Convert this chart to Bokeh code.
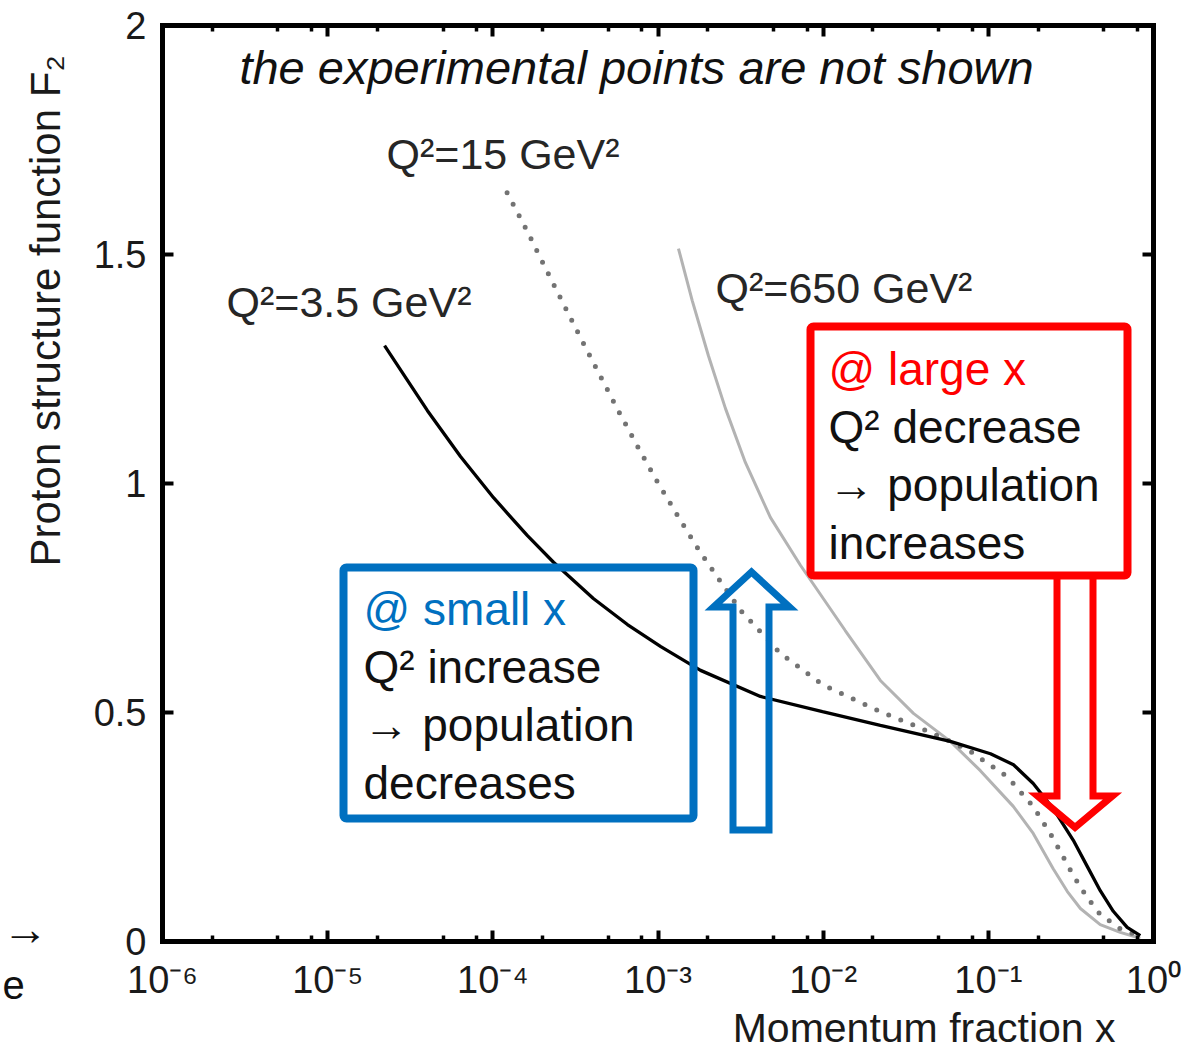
import math
from bokeh.plotting import figure
from bokeh.models import (Range1d, FixedTicker, LogAxis, LinearAxis, CustomJSTickFormatter,
                          CustomLabelingPolicy, Label, BoxAnnotation, PolyAnnotation)
from bokeh.embed import file_html
from bokeh.resources import INLINE

# ---------------- data ----------------
x_q35 = [2.21e-5, 4.02e-5, 6.37e-5, 1.01e-4, 1.62e-4, 2.33e-4, 4.06e-4, 6.53e-4, 1.04e-3,
         1.81e-3, 4.17e-3, 9.9e-3, 2.22e-2, 5.89e-2, 0.103, 0.142, 0.187, 0.247, 0.327,
         0.397, 0.476, 0.571, 0.693, 0.832]
f2_q35 = [1.301, 1.159, 1.059, 0.969, 0.886, 0.828, 0.749, 0.692, 0.644,
          0.592, 0.535, 0.502, 0.472, 0.437, 0.410, 0.386, 0.345, 0.290, 0.221,
          0.164, 0.111, 0.066, 0.031, 0.013]

x_q15 = [1.22e-4, 1.62e-4, 2.02e-4, 2.56e-4, 3.39e-4, 4.48e-4, 5.91e-4, 7.81e-4, 9.9e-4,
         1.37e-3, 1.81e-3, 3.16e-3, 5.51e-3, 9.9e-3, 2.22e-2, 3.72e-2, 5.89e-2, 7.78e-2,
         0.130, 0.187, 0.247, 0.327, 0.397, 0.476, 0.629, 0.832]
f2_q15 = [1.635, 1.550, 1.480, 1.406, 1.319, 1.234, 1.151, 1.070, 1.004,
          0.919, 0.849, 0.723, 0.629, 0.561, 0.502, 0.469, 0.437, 0.415,
          0.360, 0.295, 0.225, 0.144, 0.096, 0.059, 0.028, 0.011]

x_q650 = [1.33e-3, 1.61e-3, 2.02e-3, 2.56e-3, 3.38e-3, 4.79e-3, 7.30e-3, 1.36e-2, 2.22e-2,
          3.52e-2, 5.89e-2, 8.95e-2, 0.1416, 0.187, 0.247, 0.301, 0.361, 0.476, 0.629, 0.832]
f2_q650 = [1.513, 1.400, 1.279, 1.164, 1.046, 0.926, 0.821, 0.679, 0.570,
           0.498, 0.437, 0.373, 0.295, 0.236, 0.159, 0.109, 0.072, 0.037, 0.020, 0.007]

x_tick_values = [1e-6, 1e-5, 1e-4, 1e-3, 1e-2, 1e-1, 1.0]
x_tick_labels = ["10\u207b\u2076", "10\u207b\u2075", "10\u207b\u2074", "10\u207b\u00b3",
                 "10\u207b\u00b2", "10\u207b\u00b9", "10\u2070"]
x_minor_mult = [2, 5, 8]
y_tick_values = [0, 0.5, 1, 1.5, 2]
y_tick_labels = ["0", "0.5", "1", "1.5", "2"]

curve_labels = ["Q\u00b2=3.5 GeV\u00b2", "Q\u00b2=15 GeV\u00b2", "Q\u00b2=650 GeV\u00b2"]
blue_lines = ["@ small x", "Q\u00b2 increase", "\u2192 population", "decreases"]
red_lines = ["@ large x", "Q\u00b2 decrease", "\u2192 population", "increases"]
x_title = "Momentum fraction x"
y_title = "Proton structure function F\u2082"
note = "the experimental points are not shown"

# ---------------- layout helpers (reference page pixels -> data) ----------------
W, H = 1188, 1056
FRAME_L, DEC, FRAME_B, UNIT = 162.0, 991.0 / 6.0, 941.0, 458.0
def px_x(px):
    return 10 ** ((px - FRAME_L) / DEC - 6)
def px_y(py):
    return (FRAME_B - py) / UNIT

BLUE = "#0070C0"
RED = "#FF0000"
FONT = "Liberation Sans"
BASE_FIX = 0.31

p = figure(width=W, height=H, x_axis_type="log",
           x_range=Range1d(px_x(0), px_x(W)), y_range=Range1d(px_y(H), px_y(0)),
           output_backend="svg", toolbar_location=None,
           min_border_left=0, min_border_right=0, min_border_top=0, min_border_bottom=0)
p.grid.visible = False
p.outline_line_color = None
p.background_fill_color = "white"
p.border_fill_color = "white"

minor = [m * d for d in x_tick_values[:-1] for m in x_minor_mult]
xticker = FixedTicker(ticks=x_tick_values, minor_ticks=minor)
yticker = FixedTicker(ticks=y_tick_values, minor_ticks=[])

xfmt = CustomJSTickFormatter(args=dict(vals=x_tick_values, labs=x_tick_labels), code="""
const i = vals.findIndex(v => Math.abs(Math.log10(v) - Math.log10(tick)) < 1e-6);
return i >= 0 ? labs[i] : "";
""")
yfmt = CustomJSTickFormatter(args=dict(vals=y_tick_values, labs=y_tick_labels), code="""
const i = vals.findIndex(v => Math.abs(v - tick) < 1e-9);
return i >= 0 ? labs[i] : "";
""")
blank_fmt = CustomJSTickFormatter(code='return "";')
no_labels = CustomLabelingPolicy(code="""
try {
  if (typeof indices.unset === "function") {
    for (const i of Array.from(indices)) indices.unset(i);
  }
} catch (e) {}
return indices;
""")

def style_axis(ax, show_labels, minor_on, bounds):
    ax.bounds = bounds
    ax.axis_line_width = 5
    ax.axis_line_color = "black"
    ax.axis_line_cap = "square"
    ax.major_tick_in = 11
    ax.major_tick_out = 0
    ax.major_tick_line_width = 4
    ax.major_tick_line_color = "black"
    if minor_on:
        ax.minor_tick_in = 6
        ax.minor_tick_out = 0
        ax.minor_tick_line_width = 3.5
        ax.minor_tick_line_color = "black"
    else:
        ax.minor_tick_line_color = None
    ax.major_label_text_font = FONT
    ax.major_label_text_font_size = "38px"
    ax.major_label_text_color = "#1a1a1a"
    if not show_labels:
        ax.major_label_policy = no_labels

xb = p.xaxis[0]
xb.ticker = xticker
xb.formatter = xfmt
xb.fixed_location = 0
style_axis(xb, True, True, (1e-6, 1.0))
xb.major_label_standoff = 17

yl = p.yaxis[0]
yl.ticker = yticker
yl.formatter = yfmt
yl.fixed_location = 1e-6
style_axis(yl, True, False, (0, 2))
yl.major_label_standoff = 16

xt = LogAxis(ticker=xticker, formatter=blank_fmt, fixed_location=2)
style_axis(xt, False, True, (1e-6, 1.0))
p.add_layout(xt, "above")
yr = LinearAxis(ticker=yticker, formatter=blank_fmt, fixed_location=1.0)
style_axis(yr, False, False, (0, 2))
p.add_layout(yr, "right")

# ---------------- curves ----------------
p.line(x_q650, f2_q650, line_color="#b3b3b3", line_width=3)
p.line(x_q15, f2_q15, line_color="#737373", line_width=5, line_dash="0 13", line_cap="round")
p.line(x_q35, f2_q35, line_color="black", line_width=3.3)

# ---------------- annotations ----------------
def lab(px, py, text, size, color="#1a1a1a", align="left", style="normal"):
    # py is the wanted alphabetic baseline in reference pixels
    p.add_layout(Label(x=px_x(px), y=px_y(py - BASE_FIX * size), text=text, text_font=FONT,
                       text_font_size=f"{size}px", text_color=color, text_align=align,
                       text_baseline="alphabetic", text_font_style=style))

lab(636, 82, note, 47, color="#111111", align="center", style="italic")
lab(226, 315, curve_labels[0], 43, color="#262626")
lab(386, 167, curve_labels[1], 43, color="#262626")
lab(715, 301, curve_labels[2], 43, color="#262626")

# axis titles
lab(1115, 1040, x_title, 41, color="#1a1a1a", align="right")
p.add_layout(Label(x=px_x(45), y=px_y(566), text=y_title, text_font=FONT,
                   text_font_size="42px", text_color="#1a1a1a", text_align="left",
                   text_baseline="middle", angle=math.pi / 2))

# boxes
p.add_layout(BoxAnnotation(left=px_x(343), right=px_x(693), top=px_y(567), bottom=px_y(818),
                           fill_color=None, fill_alpha=0, line_color=BLUE, line_alpha=1.0,
                           line_width=8, border_radius=3))
p.add_layout(BoxAnnotation(left=px_x(810), right=px_x(1127), top=px_y(326), bottom=px_y(575),
                           fill_color=None, fill_alpha=0, line_color=RED, line_alpha=1.0,
                           line_width=8, border_radius=3))

for i, t in enumerate(blue_lines):
    lab(363, 623 + 58 * i, t, 46, color=BLUE if i == 0 else "#111111")
for i, t in enumerate(red_lines):
    lab(828, 383 + 58 * i, t, 46, color=RED if i == 0 else "#111111")

# hollow arrows
up_px = [732.5, 768.5, 768.5, 789, 751, 713, 732.5]
up_py = [829.5, 829.5, 606.5, 606.5, 571.5, 606.5, 606.5]
p.add_layout(PolyAnnotation(xs=[px_x(v) for v in up_px], ys=[px_y(v) for v in up_py],
                            fill_color=None, fill_alpha=0, line_color=BLUE, line_alpha=1.0,
                            line_width=7, line_join="miter"))
dn_px = [1056.5, 1092.5, 1092.5, 1112, 1074.5, 1037, 1056.5]
dn_py = [575, 575, 795.5, 795.5, 827, 795.5, 795.5]
p.add_layout(PolyAnnotation(xs=[px_x(v) for v in dn_px], ys=[px_y(v) for v in dn_py],
                            fill_color=None, fill_alpha=0, line_color=RED, line_alpha=1.0,
                            line_width=7, line_join="miter"))

# text fragments at the left edge of the reference
lab(2, 943, "\u2192", 46, color="#111111", align="left")
lab(2, 997, "e", 40, color="#111111", align="left")

open("out.html", "w").write(file_html(p, INLINE))
